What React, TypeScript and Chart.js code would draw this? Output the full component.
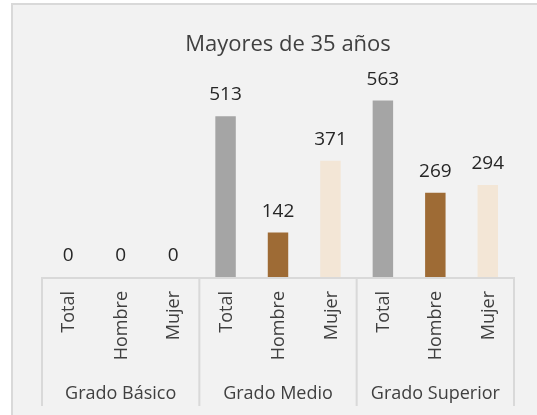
import React, { useEffect, useRef } from "react";
import { Chart, registerables } from "chart.js";

Chart.register(...registerables);

const chartTitle = "Mayores de 35 años";
const groups = ["Grado Básico", "Grado Medio", "Grado Superior"];
const categories = ["Total", "Hombre", "Mujer"];
const values = [0, 0, 0, 513, 142, 371, 563, 269, 294];
const categoryColors = ["#a5a5a5", "#9e6b35", "#f3e6d6"];
const yMax = 600;

const FONT = "'Open Sans', 'Noto Sans', sans-serif";

export default function App() {
  const ref = useRef<HTMLCanvasElement | null>(null);

  useEffect(() => {
    if (!ref.current) return;
    const labels: string[] = [];
    const colors: string[] = [];
    groups.forEach((g) => {
      categories.forEach((c, ci) => {
        labels.push(c);
        colors.push(categoryColors[ci]);
      });
    });

    const decor = {
      id: "decor",
      afterDatasetsDraw(chart: any) {
        const ctx = chart.ctx as CanvasRenderingContext2D;
        const xs = chart.scales.x;
        const ys = chart.scales.y;
        const y0 = ys.getPixelForValue(0);
        const half = (xs.getPixelForValue(1) - xs.getPixelForValue(0)) / 2;
        ctx.save();

        // data labels
        const meta = chart.getDatasetMeta(0);
        ctx.fillStyle = "#262626";
        ctx.font = `19px ${FONT}`;
        ctx.textAlign = "center";
        ctx.textBaseline = "alphabetic";
        meta.data.forEach((bar: any, i: number) => {
          ctx.fillText(String(values[i]), bar.x, bar.y - 16);
        });

        // axis line and separators
        ctx.strokeStyle = "#d9d9d9";
        ctx.lineWidth = 2;
        ctx.beginPath();
        ctx.moveTo(xs.left, y0 + 1);
        ctx.lineTo(xs.right, y0 + 1);
        for (let g = 0; g <= groups.length; g++) {
          const bx = g < groups.length ? xs.getPixelForValue(g * 3) - half : xs.getPixelForValue(g * 3 - 1) + half;
          ctx.moveTo(bx, y0);
          ctx.lineTo(bx, y0 + 129);
        }
        ctx.stroke();

        // category tick labels (rotated)
        ctx.fillStyle = "#404040";
        ctx.font = `18px ${FONT}`;
        labels.forEach((lab, i) => {
          const x = xs.getPixelForValue(i);
          ctx.save();
          ctx.translate(x, y0 + 14);
          ctx.rotate(-Math.PI / 2);
          ctx.textAlign = "right";
          ctx.textBaseline = "middle";
          ctx.fillText(lab, 0, 1);
          ctx.restore();
        });

        // group labels
        ctx.textAlign = "center";
        ctx.textBaseline = "alphabetic";
        groups.forEach((g, gi) => {
          const cx = xs.getPixelForValue(gi * 3 + 1);
          ctx.fillText(g, cx, y0 + 122);
        });

        // title
        ctx.fillStyle = "#404040";
        ctx.font = `22px ${FONT}`;
        ctx.fillText(chartTitle, 288, 51);
        ctx.restore();
      },
    };

    const chart = new Chart(ref.current, {
      type: "bar",
      data: {
        labels,
        datasets: [
          {
            data: values,
            backgroundColor: colors,
            borderWidth: 0,
            barPercentage: 0.39,
            categoryPercentage: 1,
          },
        ],
      },
      options: {
        animation: false,
        responsive: false,
        maintainAspectRatio: false,
        layout: { padding: { left: 42, right: 23, top: 89, bottom: 138 } },
        plugins: {
          legend: { display: false },
          tooltip: { enabled: false },
          title: { display: false },
        },
        scales: {
          x: { display: false },
          y: { display: false, min: 0, max: yMax },
        },
      },
      plugins: [decor],
    });
    return () => chart.destroy();
  }, []);

  return (
    <div style={{ position: "fixed", left: 0, top: 0, width: 537, height: 415, background: "#ffffff", overflow: "hidden" }}>
      <div
        style={{
          position: "absolute",
          left: 11,
          top: 3,
          width: 540,
          height: 420,
          background: "#f2f2f2",
          borderLeft: "2px solid #d9d9d9",
          borderTop: "2px solid #d9d9d9",
        }}
      />
      <canvas ref={ref} width={537} height={415} style={{ position: "absolute", left: 0, top: 0, width: 537, height: 415 }} />
    </div>
  );
}
